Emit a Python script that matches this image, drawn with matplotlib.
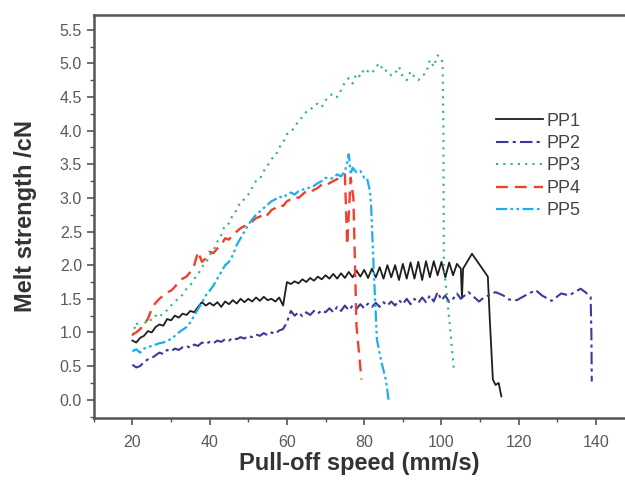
import matplotlib
matplotlib.use("Agg")
import matplotlib.pyplot as plt
from matplotlib.ticker import MultipleLocator

plt.rcParams['font.family'] = ['Liberation Sans', 'DejaVu Sans']

labels = ["PP1", "PP2", "PP3", "PP4", "PP5"]
colors = ["#1e1e1e", "#3a3a9a", "#2fb86a", "#f0402e", "#1ab0f0"]

# PP1 - black solid
pp1_x = list(range(20, 106)) + [105.3, 105.6, 107.9, 112.0, 112.5, 113.3, 114.0, 114.8, 115.5]
pp1_y = [0.88, 0.85, 0.92, 0.95, 1.02, 1.00, 1.08, 1.12, 1.10, 1.20,
         1.18, 1.25, 1.22, 1.28, 1.26, 1.32, 1.30, 1.38, 1.45, 1.40,
         1.44, 1.40, 1.45, 1.38, 1.46, 1.42, 1.48, 1.43, 1.50, 1.45,
         1.50, 1.46, 1.52, 1.47, 1.53, 1.48, 1.50, 1.46, 1.52, 1.40,
         1.75, 1.72, 1.76, 1.73, 1.79, 1.75, 1.81, 1.77, 1.83, 1.79,
         1.85, 1.80, 1.87, 1.80, 1.88, 1.81, 1.90, 1.82, 1.92, 1.83,
         1.93, 1.81, 1.95, 1.82, 1.97, 1.80, 2.00, 1.82, 2.00, 1.78,
         2.02, 1.80, 2.04, 1.80, 2.05, 1.78, 2.06, 1.82, 2.06, 1.85,
         2.05, 1.82, 2.04, 1.85, 2.02, 1.95,
         1.52, 1.95, 2.17, 1.83, 1.20, 0.30, 0.22, 0.25, 0.05]

# PP2 - dash-dot
pp2_x = list(range(20, 106)) + [107.0, 109.7, 111.0, 114.0, 116.0, 117.5, 119.5, 122.0,
                                124.4, 126.0, 128.5, 131.0, 133.0, 136.0, 137.2, 138.6, 138.8, 138.9]
pp2_y = [0.52, 0.48, 0.50, 0.56, 0.60, 0.62, 0.66, 0.70, 0.68, 0.74,
         0.72, 0.76, 0.74, 0.78, 0.80, 0.77, 0.82, 0.80, 0.85, 0.83,
         0.86, 0.84, 0.88, 0.86, 0.90, 0.88, 0.92, 0.90, 0.93, 0.91,
         0.95, 0.93, 0.97, 0.95, 0.99, 0.96, 1.00, 0.98, 1.03, 1.05,
         1.15, 1.32, 1.25, 1.30, 1.24, 1.30, 1.26, 1.32, 1.28, 1.33,
         1.30, 1.36, 1.30, 1.38, 1.32, 1.40, 1.33, 1.40, 1.35, 1.42,
         1.36, 1.43, 1.38, 1.44, 1.38, 1.45, 1.40, 1.46, 1.40, 1.48,
         1.42, 1.50, 1.42, 1.50, 1.44, 1.52, 1.45, 1.55, 1.46, 1.60,
         1.48, 1.55, 1.45, 1.50, 1.58, 1.50,
         1.60, 1.46, 1.52, 1.60, 1.55, 1.49, 1.48, 1.56,
         1.63, 1.55, 1.47, 1.58, 1.55, 1.65, 1.60, 1.53, 1.00, 0.27]

# PP3 - dotted
pp3_x = list(range(20, 101)) + [100.3, 100.5, 100.6, 102.0, 103.2]
pp3_y = [0.95, 1.15, 1.05, 1.12, 1.20, 1.18, 1.25, 1.22, 1.30, 1.33,
         1.40, 1.45, 1.52, 1.56, 1.65, 1.70, 1.80, 1.86, 1.98, 2.02,
         2.15, 2.22, 2.35, 2.45, 2.60, 2.62, 2.75, 2.82, 2.95, 2.98,
         3.05, 3.15, 3.25, 3.28, 3.40, 3.48, 3.58, 3.62, 3.75, 3.82,
         3.95, 3.98, 4.05, 4.15, 4.20, 4.28, 4.30, 4.38, 4.40, 4.35,
         4.45, 4.52, 4.55, 4.50, 4.60, 4.72, 4.78, 4.70, 4.85, 4.80,
         4.92, 4.88, 4.85, 4.95, 5.00, 4.88, 4.90, 4.82, 4.85, 4.95,
         4.80, 4.75, 4.88, 4.80, 4.75, 4.82, 4.85, 5.05, 4.95, 5.12,
         5.08,
         5.00, 4.00, 2.00, 1.20, 0.45]

# PP4 - dashed
pp4_x = list(range(20, 76)) + [75.6, 76.5, 77.2, 78.0, 79.3]
pp4_y = [0.97, 1.00, 1.05, 1.12, 1.20, 1.35, 1.44, 1.50, 1.55, 1.60,
         1.62, 1.68, 1.75, 1.80, 1.83, 1.90, 2.00, 2.20, 2.05, 2.10,
         2.20, 2.18, 2.25, 2.30, 2.40, 2.38, 2.45, 2.50, 2.55, 2.58,
         2.62, 2.65, 2.70, 2.72, 2.78, 2.75, 2.82, 2.85, 2.90, 2.88,
         2.95, 2.98, 3.02, 3.00, 3.05, 3.10, 3.08, 3.12, 3.15, 3.20,
         3.18, 3.22, 3.25, 3.28, 3.30, 3.35,
         2.30, 3.30, 3.00, 1.10, 0.30]

# PP5 - dash-dot-dot
pp5_x = list(range(20, 76)) + [75.5, 76.0, 76.5, 77.0, 78.0, 79.0, 80.0, 80.7, 81.5,
                               81.8, 82.5, 83.3, 84.5, 85.6, 86.4]
pp5_y = [0.72, 0.75, 0.70, 0.76, 0.78, 0.80, 0.82, 0.84, 0.85, 0.88,
         0.90, 0.95, 1.00, 1.04, 1.08, 1.15, 1.25, 1.35, 1.44, 1.55,
         1.62, 1.70, 1.80, 1.90, 2.00, 2.05, 2.15, 2.30, 2.40, 2.50,
         2.60, 2.68, 2.75, 2.80, 2.85, 2.90, 2.95, 2.98, 3.02, 3.00,
         3.05, 3.08, 3.05, 3.10, 3.12, 3.15, 3.15, 3.18, 3.22, 3.25,
         3.30, 3.28, 3.30, 3.35, 3.32, 3.40,
         3.50, 3.65, 3.35, 3.45, 3.38, 3.40, 3.30, 3.30, 3.10,
         2.87, 1.89, 0.89, 0.55, 0.30, -0.04]

series = [(pp1_x, pp1_y), (pp2_x, pp2_y), (pp3_x, pp3_y), (pp4_x, pp4_y), (pp5_x, pp5_y)]
styles = ["-", (0, (6, 2, 1.5, 2)), (0, (1, 2.5)), (0, (5, 3)), (0, (5, 1.5, 1.2, 1.5, 1.2, 1.5))]
widths = [1.3, 1.5, 1.5, 1.7, 1.6]

fig = plt.figure(figsize=(6.25, 4.82), dpi=100)
ax = fig.add_axes([0.150, 0.133, 0.850, 0.836])

for (x, y), lab, c, ls, lw in zip(series, labels, colors, styles, widths):
    ax.plot(x, y, color=c, linestyle=ls, linewidth=lw, label=lab)

ax.set_xlim(10, 147.5)
ax.set_ylim(-0.27, 5.72)
ax.xaxis.set_major_locator(MultipleLocator(20))
ax.xaxis.set_minor_locator(MultipleLocator(10))
ax.yaxis.set_major_locator(MultipleLocator(0.5))
ax.yaxis.set_minor_locator(MultipleLocator(0.25))
ax.yaxis.set_major_formatter(matplotlib.ticker.FormatStrFormatter('%.1f'))

for s in ax.spines.values():
    s.set_color("#555555")
    s.set_linewidth(1.8)
ax.spines['right'].set_visible(False)
ax.tick_params(which='major', direction='out', length=5, width=1.2, color="#555555",
               labelsize=11.5, labelcolor="#5a5a5a")
ax.tick_params(which='minor', direction='out', length=3, width=1.0, color="#555555")
ax.tick_params(axis='x', pad=7)

ax.set_xlabel("Pull-off speed (mm/s)", fontsize=17, fontweight='bold', color="#333333", labelpad=2)
ax.set_ylabel("Melt strength /cN", fontsize=17, fontweight='bold', color="#333333", labelpad=16)

ax.legend(loc='upper left', bbox_to_anchor=(0.768, 0.80), bbox_transform=fig.transFigure,
          frameon=False, fontsize=13, handlelength=2.6, handletextpad=0.2,
          labelspacing=0.3, labelcolor="#444444")

fig.savefig("out.png", dpi=100)
